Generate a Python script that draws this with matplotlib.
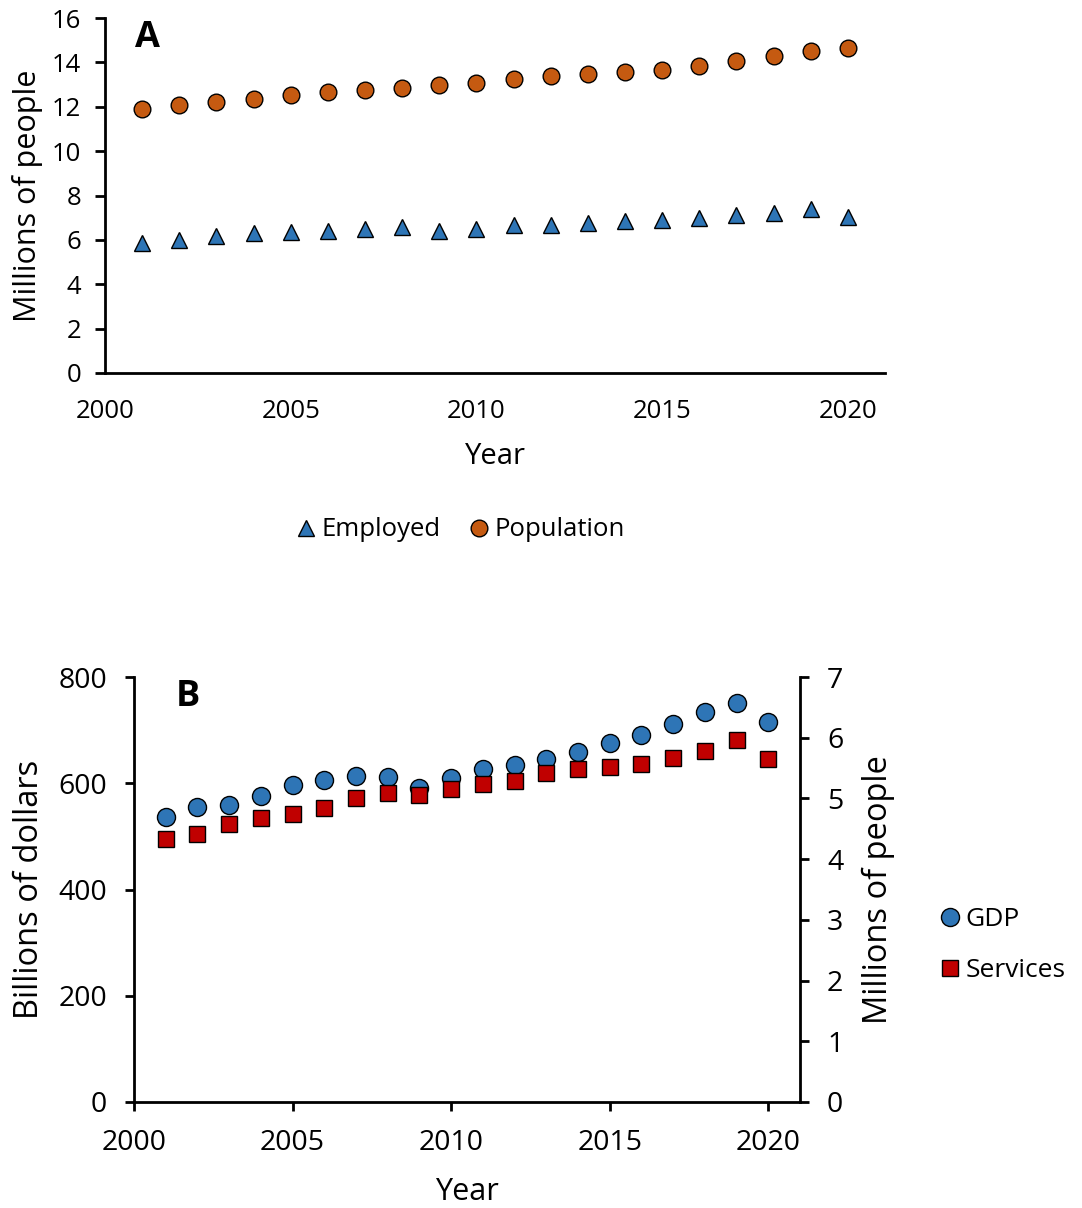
import numpy as np
import matplotlib
matplotlib.use('Agg')
import matplotlib.pyplot as plt
from matplotlib.lines import Line2D

plt.rcParams['font.family'] = ['Open Sans', 'DejaVu Sans']

# data
years = list(range(2001, 2021))
employed = [5.86, 6.0, 6.17, 6.3, 6.36, 6.4, 6.5, 6.6, 6.4, 6.5,
            6.65, 6.69, 6.78, 6.84, 6.89, 6.99, 7.1, 7.2, 7.41, 7.02]
population = [11.88, 12.06, 12.21, 12.36, 12.51, 12.65, 12.74, 12.84, 12.99, 13.08,
              13.23, 13.37, 13.46, 13.56, 13.67, 13.85, 14.06, 14.29, 14.53, 14.66]
gdp = [536, 555, 560, 576, 596, 606, 613, 611, 592, 609,
       626, 634, 645, 659, 675, 691, 711, 734, 752, 715]
services = [4.33, 4.41, 4.58, 4.67, 4.74, 4.85, 5.0, 5.09, 5.06, 5.15,
            5.24, 5.28, 5.42, 5.49, 5.52, 5.57, 5.67, 5.78, 5.96, 5.65]

xticks = [2000, 2005, 2010, 2015, 2020]

c_orange = '#C55A11'
c_blue = '#2E75B6'
c_red = '#C00000'

W, H = 1082, 1208
fig = plt.figure(figsize=(W / 100, H / 100), dpi=100)


def box(x0, y0, x1, y1):
    # pixel box -> figure fraction
    return [x0 / W, 1 - y1 / H, (x1 - x0) / W, (y1 - y0) / H]


# ---------- Panel A ----------
axA = fig.add_axes(box(105, 18, 885, 373))
axA.plot(years, employed, linestyle='none', marker='^', ms=12, mfc=c_blue,
         mec='black', mew=1.0, label='Employed')
axA.plot(years, population, linestyle='none', marker='o', ms=12, mfc=c_orange,
         mec='black', mew=1.0, label='Population')
axA.set_xlim(2000, 2021)
axA.set_ylim(0, 16)
axA.set_yticks(np.arange(0, 17, 2))
axA.set_xticks(xticks)
axA.spines[['top', 'right']].set_visible(False)
for s in ['left', 'bottom']:
    axA.spines[s].set_linewidth(2)
axA.tick_params(axis='y', length=7, width=2, pad=10, labelsize=18.5)
axA.tick_params(axis='x', length=0, pad=19, labelsize=18.5)
axA.set_ylabel('Millions of people', fontsize=22, va='center')
axA.yaxis.set_label_coords((28 - 105) / 780, 0.5)
axA.set_xlabel('Year', fontsize=21, va='center')
axA.xaxis.set_label_coords(0.5, (373 - 457) / 355)
axA.text(0.038, 0.995, 'A', transform=axA.transAxes, fontsize=26,
         fontweight='bold', ha='left', va='top')

hA = [Line2D([], [], linestyle='none', marker='^', ms=12, mfc=c_blue, mec='black'),
      Line2D([], [], linestyle='none', marker='o', ms=12, mfc=c_orange, mec='black')]
fig.legend(hA, ['Employed', 'Population'], loc='center',
           bbox_to_anchor=(462 / W, 1 - 530 / H), ncol=2, frameon=False,
           fontsize=18.5, handlelength=0.6, handletextpad=0.3, columnspacing=1.2)

# ---------- Panel B ----------
axB = fig.add_axes(box(134, 677, 800, 1102))
axB.plot(years, gdp, linestyle='none', marker='o', ms=13, mfc=c_blue,
         mec='black', mew=1.0, label='GDP', zorder=2)
axB.set_xlim(2000, 2021)
axB.set_ylim(0, 800)
axB.set_yticks(np.arange(0, 801, 200))
axB.set_xticks(xticks)
axB.spines[['top', 'right']].set_visible(False)
for s in ['left', 'bottom']:
    axB.spines[s].set_linewidth(2)
axB.tick_params(axis='both', length=6.5, width=2, pad=13, labelsize=20.5)
axB.set_ylabel('Billions of dollars', fontsize=23.5, va='center')
axB.yaxis.set_label_coords((30 - 134) / 666, 0.5)
axB.set_xlabel('Year', fontsize=22, va='center')
axB.xaxis.set_label_coords(0.5, (1102 - 1192) / 425)
axB.text(0.063, 0.995, 'B', transform=axB.transAxes, fontsize=26,
         fontweight='bold', ha='left', va='top')

axB2 = axB.twinx()
axB2.plot(years, services, linestyle='none', marker='s', ms=12, mfc=c_red,
          mec='black', mew=1.0, label='Services')
axB2.set_ylim(0, 7)
axB2.set_yticks(np.arange(0, 8, 1))
axB2.spines[['top', 'left', 'bottom']].set_visible(False)
axB2.spines['right'].set_linewidth(2)
axB2.tick_params(axis='y', length=6.5, width=2, pad=13, labelsize=20.5)
axB2.set_ylabel('Millions of people', fontsize=23.5, va='center')
axB2.yaxis.set_label_coords((878 - 134) / 666, 0.5)

hB = [Line2D([], [], linestyle='none', marker='o', ms=13, mfc=c_blue, mec='black'),
      Line2D([], [], linestyle='none', marker='s', ms=12, mfc=c_red, mec='black')]
fig.legend(hB, ['GDP', 'Services'], loc='upper left',
           bbox_to_anchor=(918 / W, 1 - 883 / H), frameon=False,
           fontsize=19, handlelength=0.6, handletextpad=0.3, labelspacing=1.0)

fig.savefig('out.png', dpi=100)
